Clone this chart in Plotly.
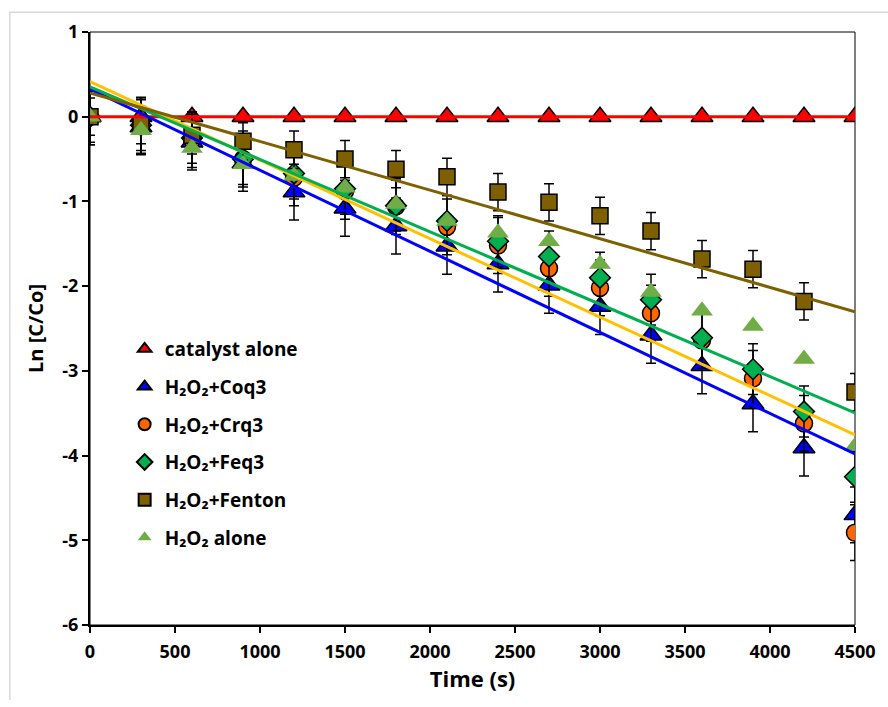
import numpy as np
import plotly.graph_objects as go

time_s = [0, 300, 600, 900, 1200, 1500, 1800, 2100, 2400, 2700, 3000, 3300, 3600, 3900, 4200, 4500]

catalyst_alone = [0] * 16
coq3 = [0, -0.12, -0.30, -0.55, -0.89, -1.08, -1.29, -1.53, -1.74, -1.99, -2.24, -2.58, -2.94, -3.39, -3.91, -4.70]
crq3 = [0, -0.10, -0.27, -0.50, -0.72, -0.88, -1.06, -1.30, -1.52, -1.79, -2.02, -2.32, -2.64, -3.09, -3.62, -4.91]
feq3 = [0, -0.10, -0.25, -0.50, -0.67, -0.85, -1.05, -1.23, -1.47, -1.65, -1.90, -2.16, -2.61, -2.98, -3.48, -4.25]
fenton = [0, -0.10, -0.22, -0.29, -0.39, -0.50, -0.62, -0.71, -0.89, -1.01, -1.17, -1.35, -1.68, -1.80, -2.18, -3.25]
h2o2_alone = [0, -0.16, -0.37, -0.56, -0.70, -0.84, -1.03, -1.23, -1.37, -1.47, -1.74, -2.07, -2.29, -2.47, -2.86, -3.89]

err_coq3 = 0.33
err_crq3 = 0.33
err_feq3 = 0.30
err_fenton = 0.22

x_ticks = [0, 500, 1000, 1500, 2000, 2500, 3000, 3500, 4000, 4500]
y_ticks = [-6, -5, -4, -3, -2, -1, 0, 1]
x_labels = [str(v) for v in x_ticks]
y_labels = [str(v) for v in y_ticks]

FONT = "Open Sans"

series = [
    # name, values, error, marker symbol, fill, outline, line colour
    ("catalyst alone", catalyst_alone, None, "triangle-up", "#FF0000", "black", "#FF0000"),
    ("H₂O₂+Coq3", coq3, err_coq3, "triangle-up", "#0000FF", "black", "#0000FF"),
    ("H₂O₂+Crq3", crq3, err_crq3, "circle", "#FF6600", "black", "#FFC000"),
    ("H₂O₂+Feq3", feq3, err_feq3, "diamond", "#00B050", "black", "#00B050"),
    ("H₂O₂+Fenton", fenton, err_fenton, "square", "#7F6000", "black", "#7F6000"),
    ("H₂O₂ alone", h2o2_alone, None, "triangle-up", "#70AD47", None, None),
]

sizes = {"triangle-up": 19, "circle": 17, "diamond": 16, "square": 16}

fig = go.Figure()

for i, (name, vals, err, sym, fill, outl, lc) in enumerate(series):
    kw = {}
    if err is not None:
        kw["error_y"] = dict(type="constant", value=err, color="black", thickness=1.5, width=5)
    fig.add_trace(go.Scatter(
        x=time_s, y=vals, mode="markers", name=name,
        legendgroup=f"g{i}",
        marker=dict(symbol=sym, size=sizes[sym], color=fill,
                    line=dict(color=outl if outl else fill, width=1.5 if outl else 0)),
        **kw))

# least-squares linear trend lines
for i, (name, vals, err, sym, fill, outl, lc) in enumerate(series):
    if lc is None:
        continue
    k, b = np.polyfit(time_s, vals, 1)
    xs = np.array([time_s[0], time_s[-1]])
    fig.add_trace(go.Scatter(x=xs, y=k * xs + b, mode="lines", showlegend=False,
                             line=dict(color=lc, width=3), hoverinfo="skip"))

# body margin is removed by the post script, so figure pixels = page pixels
W, H = 888, 700
PL, PR, PT, PB = 90, 863, 32, 633  # plot box in page pixels
L, R, T, B = PL, W - PR, PT, H - PB
pw, ph = W - L - R, H - T - B

def px_x(p):
    return (p - L) / pw

def px_y(p):
    return (H - B - p) / ph

fig.update_layout(
    width=W, height=H,
    margin=dict(l=L, r=R, t=T, b=B),
    paper_bgcolor="white", plot_bgcolor="white",
    font=dict(family=FONT, color="black", size=17),
    showlegend=True,
    legend=dict(x=px_x(125), y=px_y(334), xanchor="left", yanchor="top",
                traceorder="grouped", tracegroupgap=10, itemsizing="constant",
                font=dict(family=FONT, size=19, color="black", weight="bold"),
                bgcolor="rgba(0,0,0,0)"),
    xaxis=dict(range=[0, 4500], tickvals=x_ticks, ticktext=x_labels, ticks="outside", ticklen=6,
               tickwidth=1.5, tickcolor="black", showline=True, linecolor="black",
               linewidth=2, showgrid=False, zeroline=False, ticklabelstandoff=3,
               tickfont=dict(family=FONT, size=18, weight="bold"),
               title=dict(text="Time (s)", font=dict(family=FONT, size=22, weight="bold"), standoff=10)),
    yaxis=dict(range=[-6, 1], tickvals=y_ticks, ticktext=y_labels, ticks="outside", ticklen=6,
               tickwidth=1.5, tickcolor="black", showline=True, linecolor="black",
               linewidth=2, showgrid=False, zeroline=False,
               tickfont=dict(family=FONT, size=18, weight="bold"),
               title=dict(text="Ln [C/Co]", font=dict(family=FONT, size=20, weight="bold"), standoff=13)),
    shapes=[
        dict(type="rect", xref="paper", yref="paper", x0=0, x1=1, y0=0, y1=1,
             line=dict(color="black", width=1), layer="below"),
        dict(type="rect", xref="paper", yref="paper", x0=px_x(9), x1=px_x(920),
             y0=px_y(760), y1=px_y(12), line=dict(color="#D9D9D9", width=1.5), layer="below"),
    ],
)

fig.write_html("out.html", config={"displayModeBar": False},
               post_script="document.body.style.margin='0';document.body.style.overflow='hidden';")
